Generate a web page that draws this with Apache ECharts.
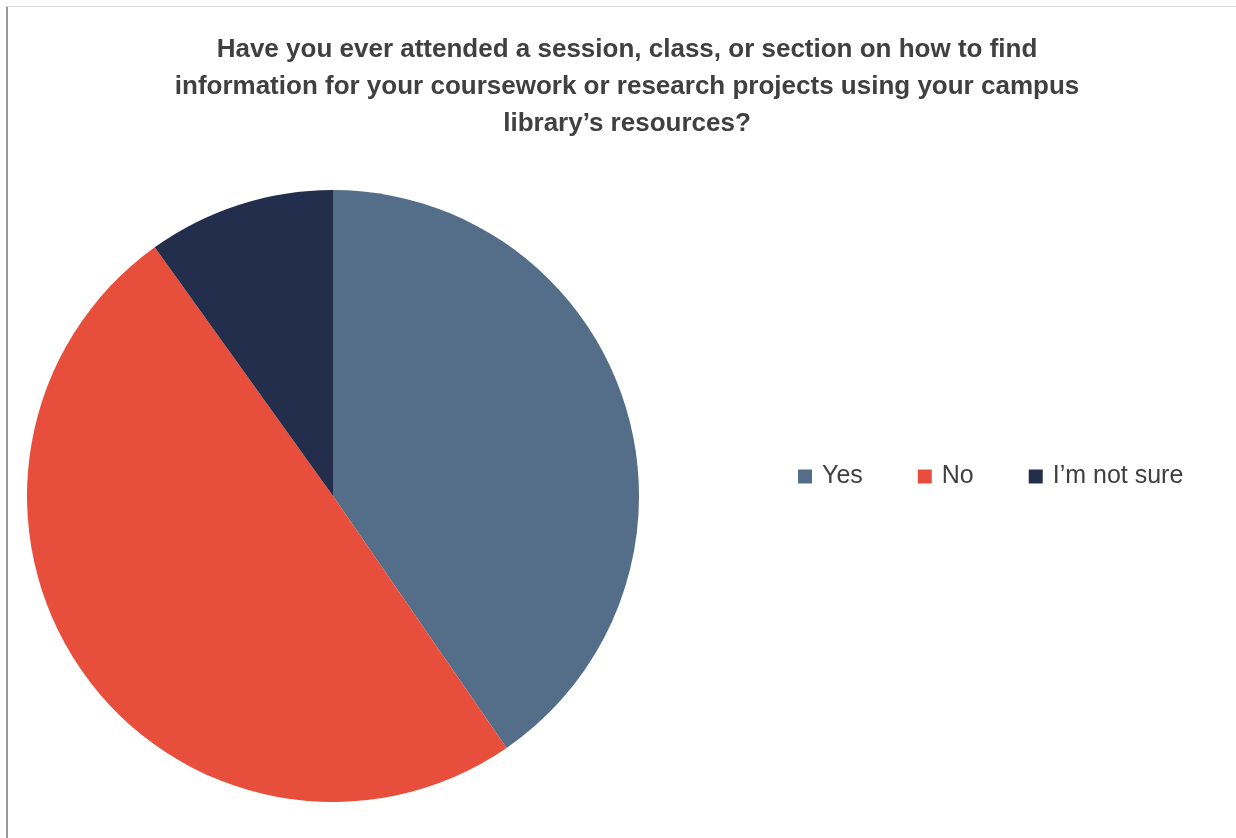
<!DOCTYPE html>
<html>
<head>
<meta charset="utf-8">
<script src="https://cdn.jsdelivr.net/npm/echarts@6/dist/echarts.min.js"></script>
<style>html,body{margin:0;padding:0;background:#fff;}#c{width:1236px;height:838px;}</style>
</head>
<body>
<div id="c"></div>
<script>
const titleText = "Have you ever attended a session, class, or section on how to find\ninformation for your coursework or research projects using your campus\nlibrary’s resources?";
const categories = ["Yes", "No", "I’m not sure"];
const values = [40.4, 49.7, 9.9];
const colors = ["#546E8A", "#E84E3C", "#222E4C"];

const chart = echarts.init(document.getElementById('c'));
chart.setOption({
  animation: false,
  color: colors,
  title: {
    text: titleText,
    left: 622, top: 26, textAlign: 'center',
    textStyle: {
      fontFamily: '"Liberation Sans Narrow", "Arial Narrow", "Liberation Sans", sans-serif',
      fontSize: 26, fontWeight: 'bold', color: '#404040', lineHeight: 37
    }
  },
  legend: {
    data: categories,
    left: 793, top: 459,
    itemWidth: 14, itemHeight: 14, itemGap: 55,
    icon: 'rect',
    textStyle: {
      fontFamily: '"Liberation Sans Narrow", "Arial Narrow", "Liberation Sans", sans-serif',
      fontSize: 25, color: '#404040', padding: [0, 0, 0, 5]
    }
  },
  graphic: [
    {type: 'rect', shape: {x: 6, y: 6, width: 2, height: 832}, style: {fill: '#999999'}},
    {type: 'rect', shape: {x: 6, y: 6, width: 1230, height: 1}, style: {fill: '#dddddd'}}
  ],
  series: [{
    type: 'pie',
    center: [333, 496],
    radius: 306,
    startAngle: 90,
    clockwise: true,
    label: {show: false},
    labelLine: {show: false},
    itemStyle: {borderWidth: 0},
    emphasis: {disabled: true},
    data: categories.map((n, i) => ({name: n, value: values[i]}))
  }]
});
</script>
</body>
</html>
